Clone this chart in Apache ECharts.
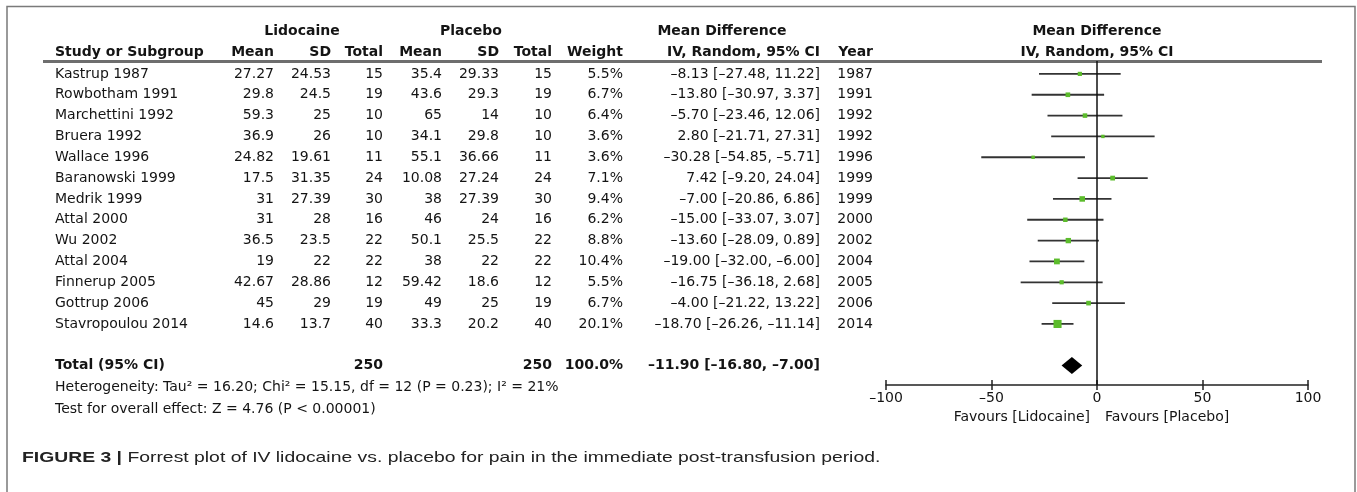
<!DOCTYPE html>
<html>
<head>
<meta charset="utf-8">
<title>Forest plot - IV lidocaine vs placebo</title>
<script src="https://cdn.jsdelivr.net/npm/echarts@6/dist/echarts.min.js"></script>
<style>
    html, body { margin: 0; padding: 0; background: #fff; }
    #chart { width: 1357px; height: 492px; }
</style>
</head>
<body>
<div id="chart"></div>
<script>
// study data
var studies = ['Kastrup 1987', 'Rowbotham 1991', 'Marchettini 1992', 'Bruera 1992', 'Wallace 1996',
    'Baranowski 1999', 'Medrik 1999', 'Attal 2000', 'Wu 2002', 'Attal 2004', 'Finnerup 2005',
    'Gottrup 2006', 'Stavropoulou 2014'];
var lidoMean = [27.27, 29.8, 59.3, 36.9, 24.82, 17.5, 31, 31, 36.5, 19, 42.67, 45, 14.6];
var lidoSD = [24.53, 24.5, 25, 26, 19.61, 31.35, 27.39, 28, 23.5, 22, 28.86, 29, 13.7];
var lidoTotal = [15, 19, 10, 10, 11, 24, 30, 16, 22, 22, 12, 19, 40];
var placMean = [35.4, 43.6, 65, 34.1, 55.1, 10.08, 38, 46, 50.1, 38, 59.42, 49, 33.3];
var placSD = [29.33, 29.3, 14, 29.8, 36.66, 27.24, 27.39, 24, 25.5, 22, 18.6, 25, 20.2];
var placTotal = [15, 19, 10, 10, 11, 24, 30, 16, 22, 22, 12, 19, 40];
var weights = [5.5, 6.7, 6.4, 3.6, 3.6, 7.1, 9.4, 6.2, 8.8, 10.4, 5.5, 6.7, 20.1];
var md = [-8.13, -13.80, -5.70, 2.80, -30.28, 7.42, -7.00, -15.00, -13.60, -19.00, -16.75, -4.00, -18.70];
var ciLow = [-27.48, -30.97, -23.46, -21.71, -54.85, -9.20, -20.86, -33.07, -28.09, -32.00, -36.18, -21.22, -26.26];
var ciHigh = [11.22, 3.37, 12.06, 27.31, -5.71, 24.04, 6.86, 3.07, 0.89, -6.00, 2.68, 13.22, -11.14];
var years = [1987, 1991, 1992, 1992, 1996, 1999, 1999, 2000, 2002, 2004, 2005, 2006, 2014];

// pooled result
var totalLido = 250;
var totalPlac = 250;
var totalWeight = 100.0;
var pooled = [-11.90, -16.80, -7.00];   // estimate, low, high

var xTicks = [-100, -50, 0, 50, 100];

var TOTAL_ROW = 14;
var FONT = 'DejaVu Sans';
var INK = '#141414';

function minus(s) { return String(s).replace(/-/g, '\u2013'); }
function fmtCI(m, lo, hi) {
    return minus(m.toFixed(2) + ' [' + lo.toFixed(2) + ', ' + hi.toFixed(2) + ']');
}

var chart = echarts.init(document.getElementById('chart'));

var whiskers = studies.map(function (s, i) { return [ciLow[i], ciHigh[i], i]; });
var squares = studies.map(function (s, i) { return [md[i], i, weights[i]]; });

var GRID_H = 324;

chart.setOption({
    animation: false,
    grid: { left: 886, width: 422, top: 61, height: GRID_H },
    xAxis: [{
        type: 'value', gridIndex: 0, position: 'bottom',
        min: xTicks[0], max: xTicks[xTicks.length - 1], interval: 50,
        axisLine: { show: true, onZero: false, lineStyle: { color: '#222', width: 1.5 } },
        axisTick: { show: true, length: 5, lineStyle: { color: '#222', width: 1.5 } },
        axisLabel: {
            color: INK, fontSize: 14, fontFamily: FONT, margin: 6,
            formatter: function (v) { return minus(v); }
        },
        splitLine: { show: false }
    }, {
        // second axis pulled down onto the first one, ticks pointing up
        type: 'value', gridIndex: 0, position: 'top', offset: -GRID_H,
        min: xTicks[0], max: xTicks[xTicks.length - 1], interval: 50,
        axisLine: { show: false, onZero: false },
        axisTick: { show: true, length: 5, lineStyle: { color: '#222', width: 1.5 } },
        axisLabel: { show: false },
        splitLine: { show: false }
    }],
    yAxis: { type: 'value', min: -0.62, max: 14.93, inverse: true, show: false },
    series: [
        {
            // confidence intervals
            type: 'custom',
            data: whiskers,
            encode: { x: [0, 1], y: 2 },
            renderItem: function (params, api) {
                var a = api.coord([api.value(0), api.value(2)]);
                var b = api.coord([api.value(1), api.value(2)]);
                return {
                    type: 'line',
                    shape: { x1: a[0], y1: a[1], x2: b[0], y2: b[1] },
                    style: { stroke: '#333', lineWidth: 1.8 }
                };
            },
            markLine: {
                silent: true,
                symbol: ['none', 'none'],
                label: { show: false },
                lineStyle: { color: '#111', width: 1.5, type: 'solid' },
                data: [{ xAxis: 0 }]
            },
            z: 2
        },
        {
            type: 'scatter',
            data: squares,
            symbol: 'rect',
            symbolSize: function (v) { return 1.8 * Math.sqrt(v[2]); },
            itemStyle: { color: '#5cbc2c', opacity: 1 },
            z: 3
        },
        {
            // pooled diamond
            type: 'custom',
            data: [[pooled[0], pooled[1], pooled[2], TOTAL_ROW]],
            encode: { x: [0, 1, 2], y: 3 },
            renderItem: function (params, api) {
                var c = api.coord([api.value(0), api.value(3)]);
                var lo = api.coord([api.value(1), api.value(3)]);
                var hi = api.coord([api.value(2), api.value(3)]);
                var h = 8.5;
                return {
                    type: 'polygon',
                    shape: { points: [[lo[0], c[1]], [c[0], c[1] - h], [hi[0], c[1]], [c[0], c[1] + h]] },
                    style: { fill: '#000' }
                };
            },
            z: 3
        }
    ]
});

// table text, positioned on the same rows as the plot
function rowY(r) { return chart.convertToPixel({ yAxisIndex: 0 }, r); }
function txt(str, x, r, align, bold, opts) {
    opts = opts || {};
    return {
        type: 'text', silent: true, x: x, y: rowY(r),
        style: {
            text: str, align: align || 'right', verticalAlign: 'middle', fill: INK,
            fontSize: opts.size || 14, fontFamily: opts.family || FONT,
            fontWeight: bold ? 'bold' : 'normal'
        }
    };
}

// column anchors (right edges)
var colName = 55, colLM = 274, colLS = 331, colLT = 383, colPM = 442, colPS = 499, colPT = 552,
    colW = 623, colCI = 820, colY = 873, plotMid = 1097;

var g = [];
g.push({ type: 'rect', silent: true, shape: { x: 7, y: 6.5, width: 1348, height: 500 },
    style: { fill: 'none', stroke: '#7a7a7a', lineWidth: 1.5 } });
g.push({ type: 'line', silent: true, shape: { x1: 43, y1: 61.5, x2: 1322, y2: 61.5 },
    style: { stroke: '#6e6e6e', lineWidth: 3 } });

// headers
g.push(txt('Lidocaine', 302, -2.05, 'center', true));
g.push(txt('Placebo', 471, -2.05, 'center', true));
g.push(txt('Mean Difference', 722, -2.05, 'center', true));
g.push(txt('Mean Difference', plotMid, -2.05, 'center', true));
g.push(txt('Study or Subgroup', colName, -1.05, 'left', true));
g.push(txt('Mean', colLM, -1.05, 'right', true));
g.push(txt('SD', colLS, -1.05, 'right', true));
g.push(txt('Total', colLT, -1.05, 'right', true));
g.push(txt('Mean', colPM, -1.05, 'right', true));
g.push(txt('SD', colPS, -1.05, 'right', true));
g.push(txt('Total', colPT, -1.05, 'right', true));
g.push(txt('Weight', colW, -1.05, 'right', true));
g.push(txt('IV, Random, 95% CI', colCI, -1.05, 'right', true));
g.push(txt('Year', colY, -1.05, 'right', true));
g.push(txt('IV, Random, 95% CI', plotMid, -1.05, 'center', true));

studies.forEach(function (s, i) {
    g.push(txt(s, colName, i, 'left'));
    g.push(txt(String(lidoMean[i]), colLM, i));
    g.push(txt(String(lidoSD[i]), colLS, i));
    g.push(txt(String(lidoTotal[i]), colLT, i));
    g.push(txt(String(placMean[i]), colPM, i));
    g.push(txt(String(placSD[i]), colPS, i));
    g.push(txt(String(placTotal[i]), colPT, i));
    g.push(txt(weights[i].toFixed(1) + '%', colW, i));
    g.push(txt(fmtCI(md[i], ciLow[i], ciHigh[i]), colCI, i));
    g.push(txt(String(years[i]), colY, i));
});

// total row
g.push(txt('Total (95% CI)', colName, TOTAL_ROW, 'left', true));
g.push(txt(String(totalLido), colLT, TOTAL_ROW, 'right', true));
g.push(txt(String(totalPlac), colPT, TOTAL_ROW, 'right', true));
g.push(txt(totalWeight.toFixed(1) + '%', colW, TOTAL_ROW, 'right', true));
g.push(txt(fmtCI(pooled[0], pooled[1], pooled[2]), colCI, TOTAL_ROW, 'right', true));
g.push(txt('Heterogeneity: Tau\u00b2 = 16.20; Chi\u00b2 = 15.15, df = 12 (P = 0.23); I\u00b2 = 21%',
    colName, 15.05, 'left', false));
g.push(txt('Test for overall effect: Z = 4.76 (P < 0.00001)',
    colName, 16.1, 'left', false));

// favours labels under the axis
g.push({ type: 'text', silent: true, x: 1090, y: 417,
    style: { text: 'Favours [Lidocaine]', align: 'right', verticalAlign: 'middle', fill: INK, fontSize: 14, fontFamily: FONT } });
g.push({ type: 'text', silent: true, x: 1105, y: 417,
    style: { text: 'Favours [Placebo]', align: 'left', verticalAlign: 'middle', fill: INK, fontSize: 14, fontFamily: FONT } });

// caption (the source typesetting is set wide, so stretch it horizontally)
g.push({ type: 'text', silent: true, x: 22, y: 458, scaleX: 1.29,
    style: {
        text: '{b|FIGURE 3 |} Forrest plot of IV lidocaine vs. placebo for pain in the immediate post-transfusion period.',
        verticalAlign: 'middle', fill: '#222', fontSize: 15, fontFamily: 'Liberation Sans',
        rich: { b: { fontWeight: 'bold', fontSize: 15, fontFamily: 'Liberation Sans', fill: '#222' } }
    } });

chart.setOption({ graphic: g });
</script>
</body>
</html>
